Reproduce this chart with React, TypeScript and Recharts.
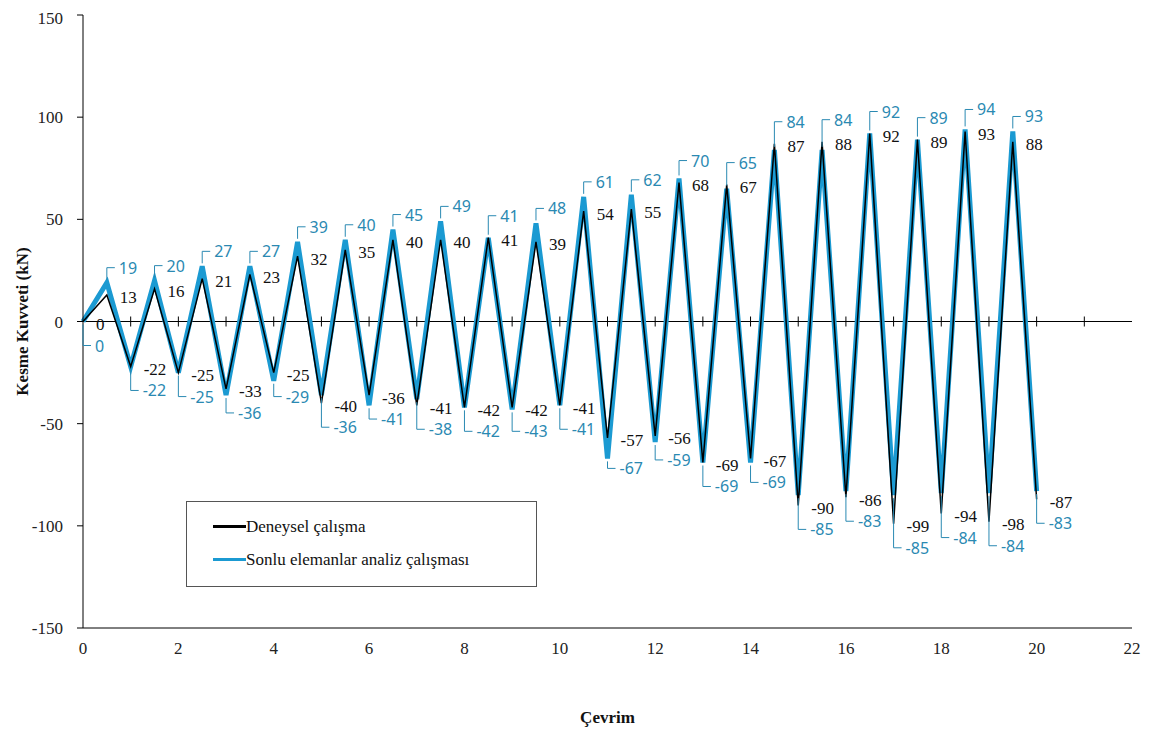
import { Legend, Line, LineChart, LabelList, ReferenceDot, ReferenceLine, XAxis, YAxis } from 'recharts'

const cycles = [0, 0.5, 1, 1.5, 2, 2.5, 3, 3.5, 4, 4.5, 5, 5.5, 6, 6.5, 7, 7.5, 8, 8.5, 9, 9.5, 10,
  10.5, 11, 11.5, 12, 12.5, 13, 13.5, 14, 14.5, 15, 15.5, 16, 16.5, 17, 17.5, 18, 18.5, 19, 19.5, 20]

const deneysel = [0, 13, -22, 16, -25, 21, -33, 23, -25, 32, -40, 35, -36, 40, -41, 40, -42, 41, -42, 39, -41,
  54, -57, 55, -56, 68, -69, 67, -67, 87, -90, 88, -86, 92, -99, 89, -94, 93, -98, 88, -87]

const sonlu = [0, 19, -22, 20, -25, 27, -36, 27, -29, 39, -36, 40, -41, 45, -38, 49, -42, 41, -43, 48, -41,
  61, -67, 62, -59, 70, -69, 65, -69, 84, -85, 84, -83, 92, -85, 89, -84, 94, -84, 93, -83]

const xTicks = [0, 2, 4, 6, 8, 10, 12, 14, 16, 18, 20, 22]
const yTicks = [-150, -100, -50, 0, 50, 100, 150]
const zeroLineTicks = [1, 2, 3, 4, 5, 6, 7, 8, 9, 10, 11, 12, 13, 14, 15, 16, 17, 18, 19, 20, 21]

const seriesNames = ['Deneysel çalışma', 'Sonlu elemanlar analiz çalışması']

const W = 1141
const H = 719
const MARGIN = { top: 7, right: 17, bottom: 0, left: 0 }
const X_AXIS_H = 99
const PX_PER_UNIT = (H - MARGIN.top - MARGIN.bottom - X_AXIS_H) / 300

const BLUE = '#1b9ad2'
const BLUE_TEXT = '#2a89b2'
const SERIF = 'Liberation Serif'
const SANS = 'Noto Sans'

const data = cycles.map((c, i) => ({ cycle: c, deneysel: deneysel[i], sonlu: sonlu[i] }))

function idxOf(props: any) {
  if (typeof props.index === 'number') return props.index
  return cycles.indexOf(props.payload?.cycle)
}

function DeneyselLabel(props: any) {
  const { x, y, value } = props
  if (x == null || y == null) return null
  return (
    <text x={x + 13} y={y + 3} dominantBaseline="central" fontFamily={SERIF} fontSize={17} fill="#111">
      {value}
    </text>
  )
}

function SonluLabel(props: any) {
  const { x, y, value } = props
  if (x == null || y == null) return null
  const i = idxOf(props)
  const yBlack = y + (value - deneysel[i]) * PX_PER_UNIT
  const up = value > 0
  const ly = up ? Math.min(y - 15, yBlack - 22) : Math.max(y + 10, yBlack + 24)
  const y0 = up ? y - 3 : y + 3
  return (
    <g>
      <polyline points={`${x},${y0} ${x},${ly} ${x + 8},${ly}`} fill="none" stroke={BLUE_TEXT} strokeWidth={1} />
      <text x={x + 12} y={ly} dominantBaseline="central" fontFamily={SANS} fontSize={16} fill={BLUE_TEXT}>
        {value}
      </text>
    </g>
  )
}

function LegendBox() {
  const row = (color: string, label: string) => (
    <div style={{ display: 'flex', alignItems: 'center', height: 33 }}>
      <div style={{ width: 33, height: 3, background: color }} />
      <span style={{ fontFamily: SERIF, fontSize: 17, color: '#111' }}>{label}</span>
    </div>
  )
  return (
    <div style={{ boxSizing: 'border-box', width: 351, height: 86, border: '1px solid #555', background: '#fff', padding: '8px 0 0 26px' }}>
      {row('#000', seriesNames[0])}
      {row(BLUE, seriesNames[1])}
    </div>
  )
}

export default function App() {
  return (
    <LineChart width={W} height={H} data={data} margin={MARGIN}>
      <XAxis
        dataKey="cycle"
        type="number"
        domain={[0, 22]}
        ticks={xTicks}
        height={X_AXIS_H}
        tickLine={false}
        tickMargin={8}
        axisLine={{ stroke: '#000' }}
        tick={{ fontFamily: SERIF, fontSize: 17, fill: '#222' }}
        label={(p: any) => {
          const vb = p.viewBox
          return (
            <text x={vb.x + vb.width / 2} y={vb.y + vb.height - 10} textAnchor="middle" dominantBaseline="central"
              fontFamily={SERIF} fontSize={17} fontWeight="bold" fill="#111">Çevrim</text>
          )
        }}
      />
      <XAxis xAxisId="top" orientation="top" type="number" domain={[0, 22]} height={0} tick={false} tickLine={false} axisLine={{ stroke: '#000' }} />
      <YAxis
        type="number"
        domain={[-150, 150]}
        ticks={yTicks}
        width={75}
        tickSize={6}
        tickMargin={14}
        tickLine={{ stroke: '#000' }}
        axisLine={{ stroke: '#000' }}
        tick={{ fontFamily: SERIF, fontSize: 17, fill: '#222' }}
        label={(p: any) => {
          const vb = p.viewBox
          const cx = vb.x + 14
          const cy = vb.y + vb.height / 2
          return (
            <text x={cx} y={cy} transform={`rotate(-90 ${cx} ${cy})`} textAnchor="middle" dominantBaseline="central"
              fontFamily={SERIF} fontSize={17} fontWeight="bold" fill="#111">Kesme Kuvveti (kN)</text>
          )
        }}
      />
      <YAxis yAxisId="right" orientation="right" domain={[-150, 150]} width={0} tick={false} tickLine={false} axisLine={{ stroke: '#000' }} />
      <ReferenceLine y={0} stroke="#000" strokeWidth={1} />
      {zeroLineTicks.map(t => (
        <ReferenceDot key={t} x={t} y={0} r={0}
          shape={(p: any) => <line x1={p.cx} x2={p.cx} y1={p.cy - 5} y2={p.cy + 5} stroke="#000" strokeWidth={1} />} />
      ))}
      <Legend
        layout="horizontal"
        verticalAlign="middle"
        align="center"
        content={() => <LegendBox />}
        wrapperStyle={{ left: 178, top: 493, width: 351, height: 86 }}
      />
      <Line type="linear" dataKey="sonlu" name={seriesNames[1]} stroke={BLUE} strokeWidth={5} dot={false} isAnimationActive={false}>
        <LabelList dataKey="sonlu" content={SonluLabel} />
      </Line>
      <Line type="linear" dataKey="deneysel" name={seriesNames[0]} stroke="#000" strokeWidth={1.5} dot={false} isAnimationActive={false}>
        <LabelList dataKey="deneysel" content={DeneyselLabel} />
      </Line>
    </LineChart>
  )
}
